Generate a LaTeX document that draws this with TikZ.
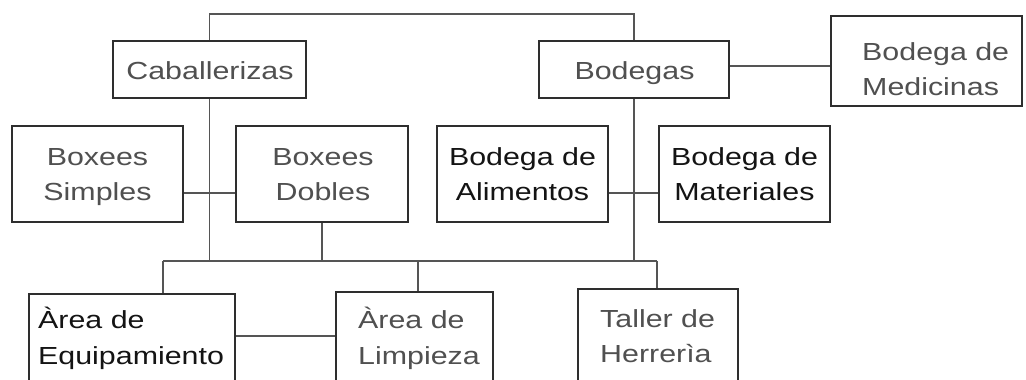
\documentclass[tikz,border=0pt]{standalone}
\usepackage{fontspec}
\setmainfont{Liberation Sans}[FakeStretch=1.23]
\definecolor{boxc}{HTML}{2E2E2E}
\definecolor{linec}{HTML}{555555}
\definecolor{greyt}{HTML}{505050}
\definecolor{blackt}{HTML}{141414}
\tikzset{
  box/.style={draw=boxc, line width=2pt, inner sep=0pt, fill=white},
  conn/.style={draw=linec, line width=1.1pt},
  lbl/.style={inner sep=0pt, font=\fontsize{24.7}{35}\selectfont, text=greyt},
  lblk/.style={lbl, text=blackt}
}
\begin{document}
\begin{tikzpicture}[x=1pt,y=-1pt]
\useasboundingbox (0,0) rectangle (1026,380);
\clip (0,0) rectangle (1026,380);
\fill[white] (0,0) rectangle (1026,380);
% boxes
\node[box, minimum width=193pt, minimum height=57pt] (cab) at (209.5,69.5) {};
\node[box, minimum width=190pt, minimum height=57pt] (bod) at (634,69.5) {};
\node[box, minimum width=191pt, minimum height=90pt] (med) at (926.5,61) {};
\node[box, minimum width=171pt, minimum height=96pt] (sim) at (97.5,174) {};
\node[box, minimum width=172pt, minimum height=96pt] (dob) at (322,174) {};
\node[box, minimum width=171pt, minimum height=96pt] (ali) at (522.5,174) {};
\node[box, minimum width=171pt, minimum height=96pt] (mat) at (744.5,174) {};
\node[box, minimum width=206pt, minimum height=126pt] (equ) at (132,357) {};
\node[box, minimum width=157pt, minimum height=128pt] (lim) at (414.5,356) {};
\node[box, minimum width=160pt, minimum height=131pt] (tal) at (658,354.5) {};
% helper coordinates
\coordinate (top) at (420,14);
\coordinate (ymed) at (0,66);
\coordinate (ybox) at (0,193);
\coordinate (ybus) at (0,261);
\coordinate (yeq) at (0,336);
\coordinate (bl) at (163,261);
\coordinate (br) at (657,261);
\coordinate (bm) at (418,261);
% connectors
\draw[conn] (cab.north) |- (top) -| (bod.north);
\draw[conn] (bod.east |- ymed) -- (med.west |- ymed);
\draw[conn] (cab.south) -- (cab.south |- ybus);
\draw[conn] (bod.south) -- (bod.south |- ybus);
\draw[conn] (sim.east |- ybox) -- (dob.west |- ybox);
\draw[conn] (ali.east |- ybox) -- (mat.west |- ybox);
\draw[conn] (dob.south) -- (dob.south |- ybus);
\draw[conn] (bl) -- (br);
\draw[conn] (bl) -- (bl |- equ.north);
\draw[conn] (bm) -- (bm |- lim.north);
\draw[conn] (br) -- (br |- tal.north);
\draw[conn] (equ.east |- yeq) -- (lim.west |- yeq);
% labels
\node[lbl, anchor=base] (tcab) at (210,79) {Caballerizas};
\node[lbl, anchor=base] (tbod) at (634.5,79) {Bodegas};
\node[lbl, anchor=base west] (tmed1) at (862,60) {Bodega de};
\node[lbl, anchor=base west] (tmed2) at (862,95) {Medicinas};
\node[lbl, anchor=base] (tsim1) at (97.5,165) {Boxees};
\node[lbl, anchor=base] (tsim2) at (97.5,200) {Simples};
\node[lbl, anchor=base] (tdob1) at (323,165) {Boxees};
\node[lbl, anchor=base] (tdob2) at (323,200) {Dobles};
\node[lblk, anchor=base] (tali1) at (522.5,165) {Bodega de};
\node[lblk, anchor=base] (tali2) at (522.5,200) {Alimentos};
\node[lblk, anchor=base] (tmat1) at (744.5,165) {Bodega de};
\node[lblk, anchor=base] (tmat2) at (744.5,200) {Materiales};
\node[lblk, anchor=base west] (tequ1) at (38,328) {Àrea de};
\node[lblk, anchor=base west] (tequ2) at (38,364) {Equipamiento};
\node[lbl, anchor=base west] (tlim1) at (358,328) {Àrea de};
\node[lbl, anchor=base west] (tlim2) at (358,364) {Limpieza};
\node[lbl, anchor=base west] (ttal1) at (600,327) {Taller de};
\node[lbl, anchor=base west] (ttal2) at (600,362) {Herrerìa};
\end{tikzpicture}
\end{document}
